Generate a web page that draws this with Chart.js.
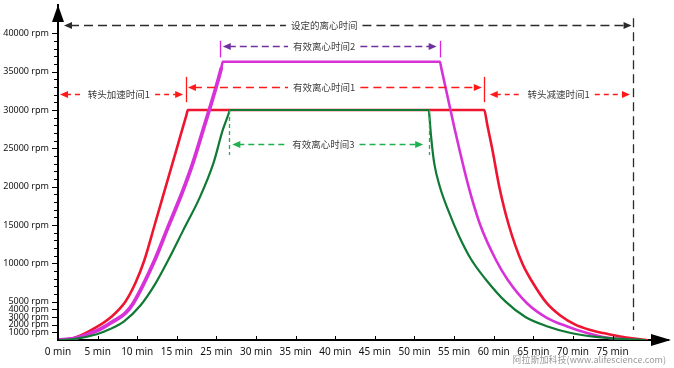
<!DOCTYPE html>
<html>
<head>
<meta charset="utf-8">
<script src="https://cdn.jsdelivr.net/npm/chart.js@4.4.0/dist/chart.umd.min.js"></script>
<style>
  html, body { margin: 0; padding: 0; background: #fff; }
  #wrap { width: 674px; height: 368px; }
</style>
</head>
<body>
<div id="wrap"><canvas id="rotor" width="674" height="368"></canvas></div>
<script>
// x values are positions on the time axis: one labelled tick every 5 units
const xTickLabels = ['0 min', '5 min', '10 min', '15 min', '25 min', '30 min', '35 min', '40 min',
    '45 min', '50 min', '55 min', '60 min', '65 min', '70 min', '75 min'];
const yLabelValues = [1000, 2000, 3000, 4000, 5000, 10000, 15000, 20000, 25000, 30000, 35000, 40000];

const redTime = [0, 2, 4.9, 6.7, 8.5, 9.8, 10.9, 12.2, 13.6, 15.0, 16.2, 16.4,
    53.8, 54.2, 54.8, 55.7, 56.9, 58.6, 59.8, 61.7, 63.4, 65.3, 67.2, 68.8, 70.5, 72.0, 73.5, 74.3];
const redRpm = [0, 250, 1700, 3000, 5000, 7500, 10400, 15000, 20000, 25000, 29300, 30000,
    30000, 28000, 25000, 20000, 15000, 10000, 7700, 4800, 3200, 2000, 1300, 900, 550, 280, 80, 0];

const magentaTime = [0, 2, 4.9, 6.6, 8.5, 9.5, 12.2, 13.8, 15.7, 17.0, 18.2, 20.6, 20.8,
    48.2, 48.4, 50.1, 51.8, 53.3, 55.3, 56.8, 59.2, 61.7, 64.2, 66.8, 68.8, 71.0, 73.0];
const magentaRpm = [0, 180, 1200, 2200, 3500, 4800, 10400, 14500, 19300, 23000, 27000, 35400, 36300,
    36300, 35400, 27400, 20100, 15000, 10400, 7800, 4800, 2900, 1800, 900, 400, 130, 0];

const greenTime = [0, 2, 4.9, 6.5, 8.3, 10.4, 12.2, 13.9, 15.8, 17.9, 19.6, 20.8, 21.5, 21.7,
    46.8, 46.9, 47.1, 47.5, 48.2, 49.3, 50.6, 52.1, 54.0, 56.5, 59.0, 61.7, 64.6, 67.6, 71.0, 74.0];
const greenRpm = [0, 130, 750, 1400, 2400, 4500, 7200, 10400, 14300, 18600, 23000, 27400, 29400, 30000,
    30000, 29000, 26500, 23000, 20000, 16800, 13600, 10600, 7900, 5000, 3000, 1800, 950, 450, 150, 0];

// dashed double arrows with a caption in the middle (x in axis units, y in rpm)
const arrowNotes = [
    { label: '设定的离心时间', y: 41070, x1: 0.76, x2: 72.4, xText: 33.6, color: '#2b2b2b', dash: [9, 5] },
    { label: '有效离心时间2', y: 38330, x1: 20.8, x2: 47.8, xText: 33.6, color: '#7030a0', dash: [7, 4] },
    { label: '有效离心时间1', y: 33030, x1: 16.4, x2: 53.5, xText: 33.6, color: '#ff1a1a', dash: [8, 5] },
    { label: '转头加速时间1', y: 32030, x1: 0.25, x2: 15.8, xText: 7.7, color: '#ff1a1a', dash: [5, 4] },
    { label: '转头减速时间1', y: 32030, x1: 54.5, x2: 72.2, xText: 63.2, color: '#ff1a1a', dash: [5, 4] },
    { label: '有效离心时间3', y: 25550, x1: 22.0, x2: 46.1, xText: 33.5, color: '#1fb050', dash: [6, 4] }
];
const markers = [
    { x: 72.6, y1: 41980, y2: 1300, color: '#2b2b2b', dash: [9, 5] },
    { x: 20.5, y1: 39020, y2: 36860, color: '#e020e0', dash: [] },
    { x: 48.2, y1: 39020, y2: 36860, color: '#e020e0', dash: [] },
    { x: 16.1, y1: 34330, y2: 31030, color: '#ff1a1a', dash: [] },
    { x: 53.8, y1: 34330, y2: 31030, color: '#ff1a1a', dash: [] },
    { x: 21.6, y1: 30000, y2: 24120, color: '#1fb050', dash: [4, 3] },
    { x: 46.8, y1: 30000, y2: 24120, color: '#1fb050', dash: [4, 3] }
];

const toPoints = (xs, ys) => xs.map((x, i) => ({ x: x, y: ys[i] }));

const noteFont = '9.5px "Noto Sans CJK SC", "Noto Sans", sans-serif';

function arrowHead(ctx, x, y, dir) {
    ctx.beginPath();
    ctx.moveTo(x, y);
    ctx.lineTo(x - dir * 8, y - 3.5);
    ctx.lineTo(x - dir * 8, y + 3.5);
    ctx.closePath();
    ctx.fill();
}

const decorations = {
    id: 'decorations',
    afterDraw(chart) {
        const ctx = chart.ctx;
        const xs = chart.scales.x;
        const ys = chart.scales.y;
        const area = chart.chartArea;
        ctx.save();

        // tick marks: x ticks point up into the plot, y ticks to the left
        ctx.strokeStyle = '#000';
        ctx.lineWidth = 1;
        xs.ticks.forEach(t => {
            const px = Math.round(xs.getPixelForValue(t.value)) + 0.5;
            ctx.beginPath();
            ctx.moveTo(px, area.bottom);
            ctx.lineTo(px, area.bottom - 4);
            ctx.stroke();
        });
        ys.ticks.forEach(t => {
            const py = Math.round(ys.getPixelForValue(t.value)) + 0.5;
            const len = yLabelValues.includes(t.value) ? 5 : 3;
            ctx.beginPath();
            ctx.moveTo(area.left - 1, py);
            ctx.lineTo(area.left - 1 - len, py);
            ctx.stroke();
        });

        // axis arrow heads
        ctx.fillStyle = '#000';
        ctx.beginPath();
        ctx.moveTo(area.left, 5);
        ctx.lineTo(area.left - 6, 22);
        ctx.lineTo(area.left + 6, 22);
        ctx.closePath();
        ctx.fill();
        ctx.beginPath();
        ctx.moveTo(671, area.bottom);
        ctx.lineTo(651, area.bottom - 6);
        ctx.lineTo(651, area.bottom + 6);
        ctx.closePath();
        ctx.fill();

        // end markers
        markers.forEach(m => {
            const px = Math.round(xs.getPixelForValue(m.x)) + 0.5;
            ctx.strokeStyle = m.color;
            ctx.lineWidth = 1.3;
            ctx.setLineDash(m.dash);
            ctx.beginPath();
            ctx.moveTo(px, ys.getPixelForValue(m.y1));
            ctx.lineTo(px, ys.getPixelForValue(m.y2));
            ctx.stroke();
        });

        // dashed arrows with captions
        ctx.font = noteFont;
        ctx.textBaseline = 'middle';
        ctx.textAlign = 'center';
        arrowNotes.forEach(n => {
            const py = Math.round(ys.getPixelForValue(n.y)) + 0.5;
            const left = xs.getPixelForValue(n.x1);
            const right = xs.getPixelForValue(n.x2);
            const cx = xs.getPixelForValue(n.xText);
            const w = ctx.measureText(n.label).width;
            ctx.strokeStyle = n.color;
            ctx.fillStyle = n.color;
            ctx.lineWidth = 1.6;
            ctx.setLineDash(n.dash);
            ctx.beginPath();
            ctx.moveTo(left + 6, py);
            ctx.lineTo(cx - w / 2 - 5, py);
            ctx.moveTo(cx + w / 2 + 5, py);
            ctx.lineTo(right - 6, py);
            ctx.stroke();
            ctx.setLineDash([]);
            arrowHead(ctx, left, py, -1);
            arrowHead(ctx, right, py, 1);
            ctx.fillStyle = '#3c3c3c';
            ctx.fillText(n.label, cx, py);
        });

        // source note
        ctx.font = '9px "Noto Sans CJK SC", "Noto Sans", sans-serif';
        ctx.textAlign = 'right';
        ctx.fillStyle = '#9a9a9a';
        ctx.fillText('阿拉斯加科技(www.alifescience.com)', 666, 360);
        ctx.restore();
    }
};

new Chart(document.getElementById('rotor').getContext('2d'), {
    type: 'line',
    data: {
        datasets: [
            {
                label: 'green',
                data: toPoints(greenTime, greenRpm),
                borderColor: '#107a34',
                borderWidth: 2.2,
                order: 0
            },
            {
                label: 'magenta',
                data: toPoints(magentaTime, magentaRpm),
                borderColor: '#d632d8',
                borderWidth: 2.6,
                segment: {
                    borderWidth: c => (c.p0.parsed.x < 20 ? 3.8 : 2.6)
                },
                order: 1
            },
            {
                label: 'red',
                data: toPoints(redTime, redRpm),
                borderColor: '#ee1530',
                borderWidth: 2.6,
                order: 2
            }
        ]
    },
    options: {
        responsive: false,
        animation: false,
        devicePixelRatio: 1,
        layout: { padding: { top: 5, right: 6, left: 0, bottom: 0 } },
        elements: {
            point: { radius: 0, hoverRadius: 0 },
            line: { cubicInterpolationMode: 'monotone', fill: false, borderCapStyle: 'round', borderJoinStyle: 'round' }
        },
        plugins: {
            legend: { display: false },
            tooltip: { enabled: false }
        },
        scales: {
            x: {
                type: 'linear',
                min: 0,
                max: 77,
                grid: { display: false, drawTicks: false },
                border: { display: true, color: '#000', width: 2 },
                afterBuildTicks: s => {
                    s.ticks = xTickLabels.map((lab, i) => ({ value: i * 5 }));
                },
                ticks: {
                    autoSkip: false,
                    maxRotation: 0,
                    padding: 6,
                    color: '#111',
                    font: { family: '"Noto Sans", sans-serif', size: 10 },
                    callback: v => xTickLabels[Math.round(v / 5)] || ''
                },
                afterFit: s => { s.height = 28; }
            },
            y: {
                min: 0,
                max: 43700,
                grid: { display: false, drawTicks: false },
                border: { display: true, color: '#000', width: 2 },
                afterBuildTicks: s => {
                    // a tick mark every 1000 rpm up to 40000
                    const ticks = [];
                    for (let v = 1000; v <= 40000; v += 1000) ticks.push({ value: v });
                    s.ticks = ticks;
                },
                ticks: {
                    autoSkip: false,
                    padding: 9,
                    color: '#111',
                    font: { family: '"Noto Sans", sans-serif', size: 9 },
                    callback: v => (yLabelValues.includes(v) ? v + ' rpm' : '')
                },
                afterFit: s => {
                    s.width = 58;
                    // labels sit well inside the plot, no extra room needed above or below
                    s.paddingTop = 0;
                    s.paddingBottom = 0;
                }
            }
        }
    },
    plugins: [decorations]
});
</script>
</body>
</html>
